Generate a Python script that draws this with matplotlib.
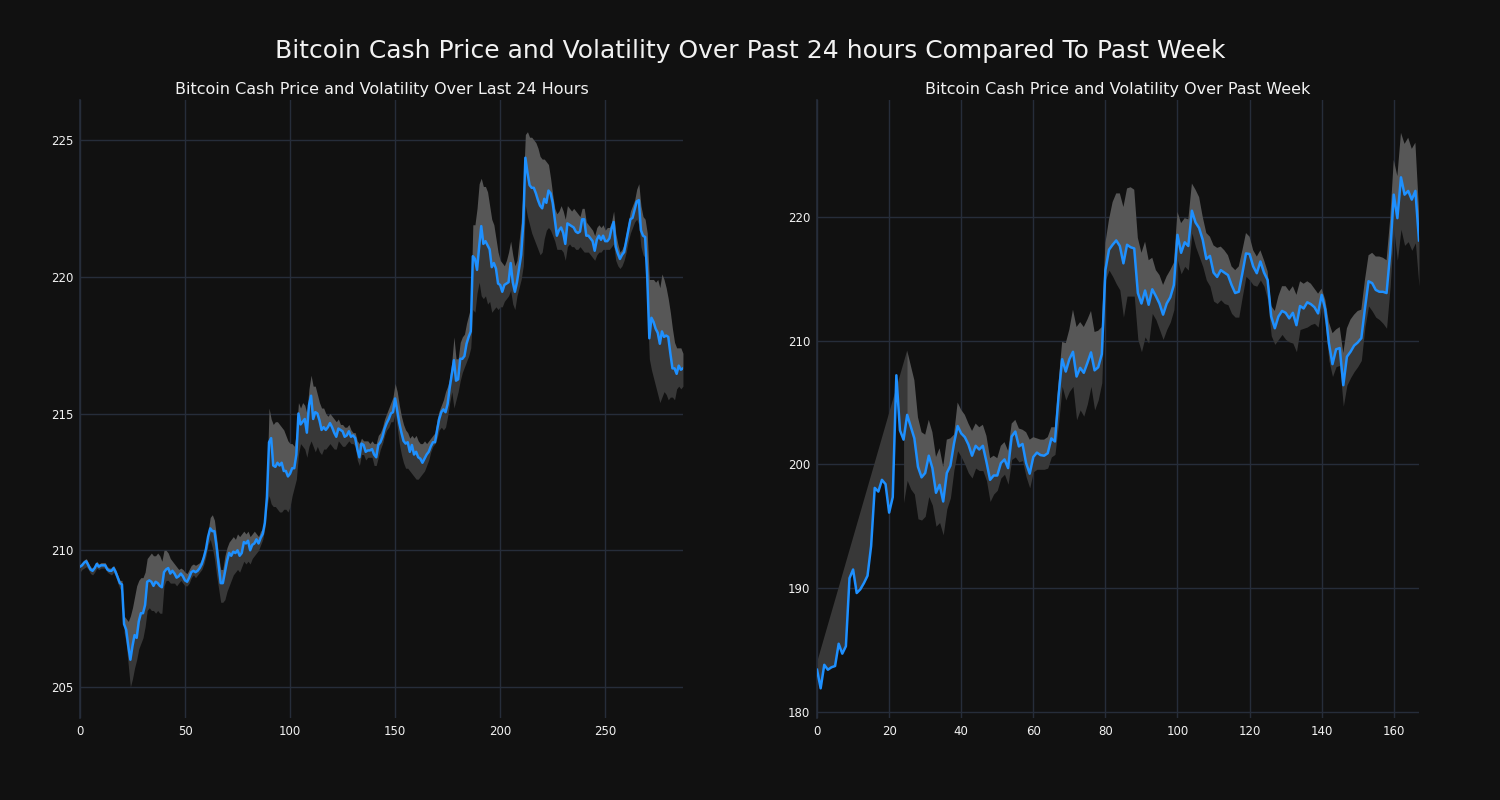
import numpy as np
import matplotlib
matplotlib.use("Agg")
import matplotlib.pyplot as plt

# ---------------------------------------------------------------------------
# data: last 24 hours (5 min steps) and past week (hourly)
# ---------------------------------------------------------------------------
day_price = [
    209.4, 209.45, 209.55, 209.6, 209.45, 209.3, 209.25, 209.35, 209.5, 209.4,
    209.45, 209.45, 209.45, 209.3, 209.25, 209.25, 209.35, 209.2, 209.0, 208.8,
    208.75, 207.3, 207.1, 206.5, 206.0, 206.5, 206.9, 206.8, 207.4, 207.7,
    207.7, 208.0, 208.85, 208.9, 208.85, 208.7, 208.85, 208.8, 208.7, 208.65,
    209.2, 209.3, 209.35, 209.15, 209.25, 209.15, 209.0, 209.05, 209.15, 209.05,
    208.9, 208.85, 209.0, 209.2, 209.25, 209.2, 209.25, 209.35, 209.5, 209.75,
    210.05, 210.5, 210.8, 210.7, 210.7, 210.15, 209.45, 208.8, 208.8, 209.2,
    209.6, 209.9, 209.8, 209.95, 209.9, 210.0, 209.8, 209.9, 210.3, 210.25,
    210.35, 210.0, 210.2, 210.25, 210.4, 210.25, 210.45, 210.6, 211.0, 211.95,
    213.95, 214.1, 213.1, 213.05, 213.2, 213.1, 213.2, 212.9, 212.9, 212.7,
    212.8, 213.0, 213.0, 213.5, 215.0, 214.6, 214.7, 214.8, 214.3, 215.3,
    215.65, 214.8, 215.05, 215.0, 214.75, 214.4, 214.5, 214.4, 214.5, 214.65,
    214.5, 214.3, 214.15, 214.45, 214.4, 214.35, 214.15, 214.2, 214.35, 214.15,
    214.2, 214.1, 213.7, 213.4, 213.9, 213.85, 213.6, 213.65, 213.65, 213.7,
    213.5, 213.4, 213.85, 213.95, 214.15, 214.45, 214.65, 214.8, 215.0, 215.05,
    215.55, 215.1, 214.65, 214.3, 214.0, 213.9, 213.95, 213.6, 213.85, 213.5,
    213.6, 213.4, 213.35, 213.2, 213.35, 213.5, 213.6, 213.8, 213.95, 213.95,
    214.4, 214.8, 215.05, 215.15, 215.05, 215.35, 215.95, 216.45, 216.95, 216.2,
    216.25, 217.0, 217.0, 217.1, 217.55, 217.8, 218.0, 220.75, 220.65, 220.25,
    221.1, 221.85, 221.2, 221.3, 221.15, 221.0, 220.35, 220.5, 220.3, 219.75,
    219.7, 219.45, 219.7, 219.75, 219.8, 220.5, 219.8, 219.45, 219.8, 220.3,
    220.8, 221.95, 224.35, 223.8, 223.35, 223.25, 223.25, 223.05, 222.8, 222.6,
    222.5, 222.85, 222.7, 223.15, 223.05, 222.7, 222.1, 221.5, 221.7, 221.8,
    221.6, 221.2, 221.95, 221.9, 221.85, 221.8, 221.65, 221.6, 221.65, 222.1,
    222.1, 221.5, 221.5, 221.4, 221.3, 220.95, 221.35, 221.5, 221.35, 221.5,
    221.3, 221.3, 221.4, 221.75, 222.0, 221.1, 220.85, 220.65, 220.8, 220.9,
    221.3, 221.7, 222.1, 222.15, 222.45, 222.75, 222.8, 221.7, 221.5, 221.45,
    220.0, 217.75, 218.5, 218.35, 218.1, 217.95, 217.55, 218.0, 217.8, 217.85,
    217.8, 217.2, 216.65, 216.65, 216.45, 216.75, 216.6, 216.65,
]

day_upper = [
    209.5, 209.55, 209.65, 209.7, 209.55, 209.4, 209.35, 209.45, 209.6, 209.5,
    209.55, 209.55, 209.55, 209.4, 209.35, 209.35, 209.45, 209.3, 209.1, 208.9,
    208.9, 207.6, 207.5, 207.4, 207.6, 207.9, 208.3, 208.7, 208.9, 209.0,
    209.0, 209.2, 209.7, 209.8, 209.9, 209.8, 209.8, 209.9, 209.8, 209.6,
    210.0, 210.0, 209.9, 209.7, 209.6, 209.5, 209.4, 209.3, 209.35, 209.3,
    209.2, 209.15, 209.3, 209.45, 209.5, 209.45, 209.5, 209.55, 209.7, 209.9,
    210.2, 210.7, 211.2, 211.3, 211.1, 210.5, 209.8, 209.3, 209.3, 209.8,
    210.1, 210.3, 210.4, 210.5, 210.4, 210.6, 210.5, 210.6, 210.7, 210.6,
    210.7, 210.5, 210.6, 210.7, 210.6, 210.5, 210.7, 210.8, 211.1, 212.5,
    215.2, 214.8, 214.6, 214.7, 214.7, 214.6, 214.5, 214.4, 214.2, 214.0,
    213.9, 213.9, 213.8, 214.3, 215.4, 215.2, 215.4, 215.3, 215.0, 215.9,
    216.4, 216.0, 216.0, 215.7, 215.4, 215.2, 215.2, 215.0, 214.9, 215.0,
    214.9, 214.8, 214.7, 214.8, 214.6, 214.6, 214.5, 214.5, 214.6, 214.4,
    214.3, 214.3, 214.0, 213.9, 214.1, 214.0, 214.0, 214.0, 213.9, 214.0,
    213.9, 213.9, 214.2, 214.3, 214.5, 214.8, 215.0, 215.2, 215.4, 215.6,
    216.1, 215.8, 215.3, 214.9, 214.6, 214.4, 214.3, 214.1, 214.2, 214.1,
    214.2, 214.0, 213.9, 213.9, 214.0, 213.9, 214.0, 214.1, 214.2, 214.3,
    214.8, 215.1, 215.3, 215.5, 215.8, 216.0, 216.3, 216.9, 217.8, 217.0,
    217.0, 217.6, 217.8, 217.9, 218.3, 218.6, 218.9, 221.9, 221.9, 222.5,
    223.4, 223.6, 223.3, 223.3, 223.1, 222.6, 222.1, 221.9, 221.4, 220.9,
    220.6, 220.5, 220.4, 220.6, 220.9, 221.3, 220.8, 220.4, 220.6, 221.3,
    222.0, 223.3, 225.2, 225.3, 225.1, 225.1, 225.0, 224.9, 224.7, 224.4,
    224.3, 224.3, 224.2, 224.1, 223.6, 223.0, 222.5, 222.3, 222.4, 222.6,
    222.4, 222.1, 222.6, 222.5, 222.4, 222.5, 222.4, 222.3, 222.2, 222.5,
    222.5, 222.0, 221.9, 221.8, 221.7, 221.5, 221.8, 221.9, 221.8, 221.9,
    221.7, 221.8, 221.8, 222.0, 222.4, 221.6, 221.2, 220.9, 221.0, 221.2,
    221.6, 222.0, 222.4, 222.6, 222.8, 223.2, 223.4, 222.6, 222.2, 222.1,
    221.6, 219.9, 219.9, 219.9, 219.8, 219.9, 219.6, 220.1, 219.9, 219.6,
    219.2, 218.7, 218.1, 217.6, 217.4, 217.4, 217.4, 217.2,
]

day_lower = [
    209.2, 209.3, 209.35, 209.4, 209.3, 209.15, 209.1, 209.2, 209.35, 209.3,
    209.35, 209.35, 209.35, 209.2, 209.15, 209.1, 209.2, 209.05, 208.8, 208.6,
    208.5, 207.0, 206.6, 205.8, 205.0, 205.3, 205.7, 206.0, 206.4, 206.6,
    206.8, 207.2, 207.8, 207.9, 207.8, 207.8, 207.7, 207.8, 207.7, 207.7,
    208.7, 208.9, 208.9, 208.8, 208.8, 208.8, 208.7, 208.8, 208.9, 208.8,
    208.7, 208.7, 208.8, 209.0, 209.1, 209.0, 209.1, 209.2, 209.3, 209.5,
    209.8, 210.2, 210.4, 210.1, 209.7, 209.1, 208.6, 208.1, 208.1, 208.2,
    208.5, 208.7, 208.9, 209.1, 209.2, 209.3, 209.2, 209.4, 209.6, 209.5,
    209.6, 209.5, 209.7, 209.8, 209.9, 210.0, 210.2, 210.4, 210.8, 211.6,
    212.0, 211.7, 211.6, 211.6, 211.5, 211.4, 211.4, 211.5, 211.5, 211.4,
    211.6, 212.0, 212.3, 212.6, 213.5, 213.9, 213.8, 213.7, 213.4, 213.8,
    214.0, 213.8, 213.6, 213.8, 213.6, 213.5, 213.7, 213.7, 213.8, 213.9,
    213.8, 213.7, 213.7, 214.0, 213.9, 213.8, 213.8, 213.9, 214.0, 213.9,
    213.9, 213.8, 213.3, 213.1, 213.5, 213.5, 213.3, 213.4, 213.4, 213.4,
    213.1, 213.1, 213.4, 213.7, 213.9, 214.2, 214.4, 214.5, 214.7, 214.7,
    215.0, 214.5, 213.9, 213.5, 213.2, 213.0, 213.0, 212.9, 212.8, 212.7,
    212.6, 212.6, 212.7, 212.8, 212.9, 213.1, 213.3, 213.6, 213.8, 213.9,
    214.1, 214.4, 214.5, 214.4, 214.5, 214.9, 215.4, 215.8, 215.2, 215.5,
    215.8, 216.2, 216.5, 216.7, 216.9, 217.1, 217.4, 218.8, 218.7, 219.4,
    219.8, 219.3, 219.2, 219.3, 219.0, 219.1, 218.7, 218.8, 218.9, 218.8,
    218.9, 218.9, 219.1, 219.2, 219.3, 219.5, 219.0, 218.8, 219.3, 219.6,
    219.9, 220.4, 222.6, 222.2, 221.9, 221.6, 221.4, 221.2, 221.0, 220.8,
    220.9, 221.4, 221.7, 221.8, 221.7, 221.5, 221.3, 221.0, 221.0, 221.0,
    220.9, 220.6, 221.1, 221.2, 221.1, 221.1, 221.0, 221.0, 221.1, 221.0,
    220.9, 220.9, 220.9, 220.8, 220.7, 220.6, 220.8, 220.9, 220.9, 221.0,
    221.0, 221.0, 221.0, 221.1, 221.2, 220.6, 220.4, 220.3, 220.4, 220.6,
    220.9, 221.3, 221.6, 221.8, 222.0, 222.1, 221.9, 221.1, 220.8, 220.7,
    218.9, 217.0, 216.6, 216.3, 216.0, 215.7, 215.4, 215.6, 215.8, 215.7,
    215.5, 215.6, 215.6, 215.5, 215.9, 216.0, 215.9, 216.0,
]

nan = float("nan")

week_price = [
    183.4, 181.9, 183.8, 183.4, 183.6, 183.7, 185.5, 184.7, 185.3, 190.8,
    191.5, 189.6, 189.9, 190.4, 191.0, 193.4, 198.1, 197.8, 198.75, 198.4,
    196.1, 197.35, 207.2, 202.75, 202.0, 204.0, 203.05, 202.1, 199.8, 198.95,
    199.3, 200.7, 199.7, 197.7, 198.35, 197.0, 199.3, 199.9, 201.7, 203.1,
    202.5, 202.2, 201.6, 200.7, 201.5, 201.2, 201.5, 200.2, 198.75, 199.1,
    199.1, 200.1, 200.4, 199.7, 202.25, 202.65, 201.45, 201.65, 200.1, 199.25,
    200.6, 200.95, 200.75, 200.7, 200.9, 202.1, 201.85, 205.5, 208.5, 207.5,
    208.5, 209.1, 207.1, 207.8, 207.4, 208.2, 209.05, 207.6, 207.85, 208.9,
    215.7, 217.35, 217.75, 218.1, 217.65, 216.25, 217.75, 217.55, 217.45, 213.85,
    213.0, 214.05, 212.9, 214.15, 213.6, 213.0, 212.1, 213.0, 213.5, 214.5,
    218.55, 217.1, 217.95, 217.65, 220.5, 219.55, 219.1, 218.15, 216.6, 216.85,
    215.5, 215.15, 215.7, 215.5, 215.3, 214.5, 213.85, 213.95, 215.45, 217.05,
    217.0, 216.0, 215.45, 216.4, 215.5, 214.9, 211.95, 211.0, 211.95, 212.4,
    212.25, 211.8, 212.25, 211.25, 212.8, 212.6, 213.1, 212.95, 212.7, 212.2,
    213.7, 212.5, 209.8, 208.1, 209.3, 209.4, 206.4, 208.7, 209.1, 209.6,
    209.85, 210.2, 212.6, 214.8, 214.65, 214.1, 213.95, 213.95, 213.85, 217.05,
    221.8, 219.9, 223.2, 221.8, 222.1, 221.4, 222.1, 218.1,
]

week_upper = [
    184.0, nan, nan, nan, nan, nan, nan, nan, nan, nan,
    nan, nan, nan, nan, nan, nan, nan, nan, nan, nan,
    nan, nan, nan, nan, nan, 209.2, 208.0, 206.8, 203.8, 202.6,
    202.4, 203.6, 202.6, 200.6, 201.3, 199.8, 202.0, 202.1, 202.4, 205.0,
    204.4, 204.0, 203.3, 202.7, 203.3, 203.0, 203.2, 202.3, 200.5, 200.7,
    200.5, 201.5, 201.8, 201.1, 203.3, 203.6, 202.9, 202.8, 202.6, 202.0,
    202.2, 202.1, 202.0, 202.0, 202.2, 203.0, 203.0, 206.6, 209.9, 209.8,
    210.9, 212.5, 211.1, 211.5, 211.1, 211.7, 212.4, 210.7, 210.8, 211.1,
    217.9, 219.8, 221.2, 221.9, 221.9, 220.8, 222.3, 222.4, 222.2, 218.3,
    217.1, 218.0, 216.5, 216.7, 215.7, 215.3, 214.5, 215.2, 215.7, 216.3,
    220.4, 219.5, 219.9, 219.8, 222.7, 222.2, 221.6, 220.0, 218.7, 218.4,
    217.7, 217.5, 217.6, 217.3, 216.9, 216.0, 215.7, 216.0, 217.3, 218.7,
    218.4, 217.3, 216.8, 217.3, 216.5, 215.6, 212.8, 212.4, 213.6, 214.4,
    214.4, 214.0, 214.4, 213.7, 214.8, 214.6, 214.8, 214.6, 214.2, 213.8,
    214.2, 213.3, 211.5, 210.6, 210.9, 211.1, 209.0, 211.0, 211.7, 212.1,
    212.4, 212.5, 214.9, 216.9, 217.1, 216.8, 216.8, 216.7, 216.5, 219.8,
    224.6, 223.3, 226.8, 225.9, 226.4, 225.5, 226.0, 220.5,
]

week_lower = [
    nan, nan, nan, nan, nan, nan, nan, nan, nan, nan,
    nan, nan, nan, nan, nan, nan, nan, nan, nan, nan,
    nan, nan, nan, nan, 196.9, 198.7, 198.0, 197.6, 195.6, 195.5,
    195.8, 197.4, 196.7, 195.0, 195.3, 194.3, 196.4, 197.3, 199.6, 201.1,
    200.6, 200.0, 199.3, 198.9, 199.7, 199.5, 199.5, 198.7, 197.0, 197.6,
    197.9, 198.9, 199.2, 198.4, 200.4, 200.6, 200.2, 200.3, 199.0, 198.1,
    199.4, 199.6, 199.6, 199.6, 199.7, 200.6, 200.8, 203.3, 206.3, 205.2,
    205.9, 206.3, 203.6, 204.4, 203.9, 204.9, 206.3, 204.4, 205.2, 206.6,
    214.9, 215.7, 215.2, 214.6, 214.1, 211.9, 213.6, 213.6, 213.6, 210.1,
    209.1, 210.3, 209.8, 212.2, 211.7, 210.9, 210.1, 210.9, 211.5, 212.5,
    216.5, 215.4, 216.0, 215.7, 218.7, 217.6, 216.8, 216.0, 214.9, 214.4,
    213.2, 213.0, 213.3, 213.0, 212.9, 212.2, 211.9, 211.9, 213.6, 215.2,
    214.9, 214.5, 214.4, 214.9, 214.4, 213.3, 210.4, 209.7, 210.1, 210.5,
    210.1, 209.9, 209.8, 209.1, 210.9, 211.0, 211.1, 211.3, 211.4, 211.1,
    212.8, 211.3, 208.4, 207.1, 207.9, 208.0, 204.7, 206.4, 207.0, 207.5,
    207.9, 208.4, 211.1, 212.8, 212.4, 211.9, 211.7, 211.4, 211.0, 214.4,
    219.0, 216.5, 219.0, 217.7, 218.0, 217.3, 217.9, 214.4,
]

day_xticks = [0, 50, 100, 150, 200, 250]
day_yticks = [205, 210, 215, 220, 225]
week_xticks = [0, 20, 40, 60, 80, 100, 120, 140, 160]
week_yticks = [180, 190, 200, 210, 220]

# ---------------------------------------------------------------------------
# style
# ---------------------------------------------------------------------------
bg = "#111111"
grid_col = "#262d3a"
line_col = "#1e90ff"
band_light = "#575757"
band_dark = "#383838"
text_col = "#f2f2f2"

fig = plt.figure(figsize=(15, 8), dpi=100, facecolor=bg)
ax1 = fig.add_axes([0.0533, 0.1025, 0.4020, 0.7725])
ax2 = fig.add_axes([0.5447, 0.1025, 0.4013, 0.7725])


def draw_panel(ax, price, upper, lower, title, xticks, yticks, ylim):
    price = np.asarray(price, dtype=float)
    upper = np.asarray(upper, dtype=float)
    lower = np.asarray(lower, dtype=float)
    x = np.arange(len(price))

    ax.set_facecolor(bg)

    # lighter band above the price, darker band below
    ax.fill_between(x, price, upper, color=band_light, linewidth=0, zorder=1)
    ax.fill_between(x, lower, price, color=band_dark, linewidth=0, zorder=1)

    # where the upper band has gaps, join its valid neighbours
    valid = np.where(~np.isnan(upper))[0]
    for a, b in zip(valid[:-1], valid[1:]):
        if b - a > 1:
            seg = np.arange(a, b + 1)
            px = np.concatenate([[a, b], seg[::-1]])
            py = np.concatenate([[upper[a], upper[b]], price[seg][::-1]])
            ax.fill(px, py, color=band_dark, linewidth=0, zorder=1)

    ax.plot(x, price, color=line_col, linewidth=1.8, zorder=3)

    ax.set_xlim(0, len(price) - 1)
    ax.set_ylim(*ylim)
    ax.set_xticks(xticks)
    ax.set_yticks(yticks)
    ax.grid(True, color=grid_col, linewidth=1.0, zorder=0)
    ax.set_axisbelow(True)
    for side in ["top", "right", "bottom"]:
        ax.spines[side].set_visible(False)
    ax.spines["left"].set_color(grid_col)
    ax.spines["left"].set_linewidth(1.2)
    ax.tick_params(colors=text_col, labelsize=8.5, length=0, pad=5)
    ax.set_title(title, color=text_col, fontsize=11.5, pad=4)


draw_panel(ax1, day_price, day_upper, day_lower,
           "Bitcoin Cash Price and Volatility Over Last 24 Hours",
           day_xticks, day_yticks, (203.87, 226.46))
draw_panel(ax2, week_price, week_upper, week_lower,
           "Bitcoin Cash Price and Volatility Over Past Week",
           week_xticks, week_yticks, (179.5, 229.45))

fig.text(0.5, 0.936,
         "Bitcoin Cash Price and Volatility Over Past 24 hours Compared To Past Week",
         ha="center", va="center", color=text_col, fontsize=18)

fig.savefig("out.png", dpi=100, facecolor=bg)
